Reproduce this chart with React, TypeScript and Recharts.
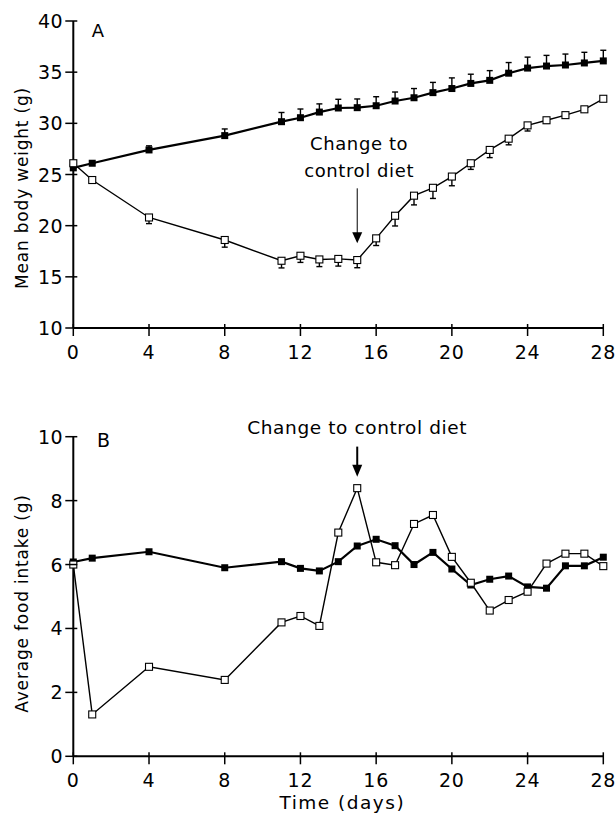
import { LineChart, Line, XAxis, YAxis, ErrorBar, ReferenceDot, ReferenceLine } from "recharts"

// days on which animals were weighed / intake measured
const DAYS = [0, 1, 4, 8, 11, 12, 13, 14, 15, 16, 17, 18, 19, 20, 21, 22, 23, 24, 25, 26, 27, 28]

// panel A – mean body weight (g)
const WEIGHT_CONTROL = [25.65, 26.1, 27.4, 28.8, 30.16, 30.55, 31.1, 31.5, 31.53, 31.72, 32.18, 32.5, 33.0, 33.4, 33.9, 34.2, 34.9, 35.4, 35.6, 35.7, 35.9, 36.1]
const WEIGHT_CONTROL_SEM = [0.3, 0, 0.4, 0.65, 0.9, 0.85, 0.8, 0.85, 0.85, 0.88, 0.88, 0.9, 1.0, 1.04, 0.9, 0.95, 1.04, 1.07, 1.04, 1.07, 1.04, 1.04]
const WEIGHT_RESTRICTED = [26.1, 24.46, 20.8, 18.6, 16.57, 17.06, 16.7, 16.75, 16.64, 18.76, 20.97, 22.93, 23.7, 24.8, 26.1, 27.4, 28.5, 29.8, 30.3, 30.8, 31.37, 32.4]
const WEIGHT_RESTRICTED_SEM = [0, 0, 0.6, 0.7, 0.7, 0.65, 0.7, 0.7, 0.75, 0.7, 1.0, 0.9, 1.04, 0.9, 0.6, 0.75, 0.6, 0.55, 0.3, 0.3, 0.2, 0]

// panel B – average food intake (g)
const INTAKE_CONTROL = [6.08, 6.2, 6.4, 5.9, 6.09, 5.88, 5.8, 6.09, 6.58, 6.79, 6.59, 6.0, 6.38, 5.86, 5.36, 5.54, 5.64, 5.3, 5.26, 5.96, 5.96, 6.23]
const INTAKE_RESTRICTED = [6.0, 1.31, 2.8, 2.39, 4.19, 4.39, 4.08, 7.0, 8.39, 6.07, 5.98, 7.27, 7.55, 6.24, 5.43, 4.56, 4.89, 5.15, 6.03, 6.34, 6.34, 5.95]

const DAY_TICKS = [0, 4, 8, 12, 16, 20, 24, 28]
const WEIGHT_TICKS = [10, 15, 20, 25, 30, 35, 40]
const INTAKE_TICKS = [0, 2, 4, 6, 8, 10]
const CHANGE_DAY = 15

const weightData = DAYS.map((day, i) => ({
  day,
  control: WEIGHT_CONTROL[i],
  controlErr: [0, WEIGHT_CONTROL_SEM[i]],
  restricted: WEIGHT_RESTRICTED[i],
  restrictedErr: [WEIGHT_RESTRICTED_SEM[i], 0],
}))

const intakeData = DAYS.map((day, i) => ({
  day,
  control: INTAKE_CONTROL[i],
  restricted: INTAKE_RESTRICTED[i],
}))

const FONT = "'DejaVu Sans', Verdana, sans-serif"

function XTick({ x, y, payload }: any) {
  return (
    <g>
      <line x1={x} x2={x} y1={y - 4} y2={y + 8} stroke="#000" strokeWidth={1.5} />
      <text x={x} y={y + 31} textAnchor="middle" fontFamily={FONT} fontSize={19} letterSpacing={0.8} fill="#000">
        {payload.value}
      </text>
    </g>
  )
}

function YTick({ x, y, payload }: any) {
  return (
    <g>
      <line x1={x - 8} x2={x + 4} y1={y} y2={y} stroke="#000" strokeWidth={1.5} />
      <text x={x - 10} y={y + 7} textAnchor="end" fontFamily={FONT} fontSize={19} letterSpacing={0.6} fill="#000">
        {payload.value}
      </text>
    </g>
  )
}

const yTitle = (text: string, dy: number) => (props: any) => {
  const { x, y, height } = props.viewBox
  const cx = x + 28
  const cy = y + height / 2 + dy
  return (
    <text x={cx} y={cy} transform={`rotate(-90 ${cx} ${cy})`} textAnchor="middle" fontFamily={FONT} fontSize={17} letterSpacing={0.8} fill="#000">
      {text}
    </text>
  )
}

const xTitle = (text: string) => (props: any) => {
  const { x, y, width } = props.viewBox
  return (
    <text x={x + width / 2 + 4} y={y + 53} textAnchor="middle" fontFamily={FONT} fontSize={18.5} letterSpacing={1.5} fill="#000">
      {text}
    </text>
  )
}

const filledSquare = (p: any) =>
  p.cx == null ? <g key={`f${p.index}`} /> : (
    <rect key={`f${p.index}`} x={p.cx - 3.5} y={p.cy - 3.5} width={7} height={7} fill="#000" />
  )

const openSquare = (p: any) =>
  p.cx == null ? <g key={`o${p.index}`} /> : (
    <rect key={`o${p.index}`} x={p.cx - 3.5} y={p.cy - 3.5} width={7} height={7} fill="#fff" stroke="#000" strokeWidth={1.1} />
  )

const arrow = (head: number, w: number, sw: number) => (p: any) => {
  const { x1, y1, x2, y2 } = p
  return (
    <g>
      <line x1={x1} y1={y1} x2={x2} y2={y2 - head + 1} stroke="#000" strokeWidth={sw} />
      <polygon points={`${x2 - w / 2},${y2 - head} ${x2 + w / 2},${y2 - head} ${x2},${y2}`} fill="#000" />
    </g>
  )
}

const textAt = (lines: string[], size: number, spacing: number, lineGap: number) => (p: any) => (
  <text x={p.cx} y={p.cy} textAnchor="middle" fontFamily={FONT} fontSize={size} letterSpacing={spacing} fill="#000">
    {lines.map((l, i) => (
      <tspan key={l} x={p.cx} dy={i === 0 ? 0 : lineGap}>
        {l}
      </tspan>
    ))}
  </text>
)

const axisLine = { stroke: "#000", strokeWidth: 2 }

function WeightPanel() {
  return (
    <LineChart width={616} height={370} data={weightData} margin={{ top: 21, right: 12.7, bottom: 0, left: 0 }}>
      <XAxis
        dataKey="day"
        type="number"
        domain={[0, 28]}
        ticks={DAY_TICKS}
        interval={0}
        height={42}
        tickSize={0}
        tickMargin={0}
        tickLine={false}
        axisLine={axisLine}
        tick={<XTick />}
      />
      <YAxis
        type="number"
        domain={[10, 40]}
        ticks={WEIGHT_TICKS}
        interval={0}
        width={73.3}
        tickSize={0}
        tickMargin={0}
        tickLine={false}
        axisLine={axisLine}
        tick={<YTick />}
        label={yTitle("Mean body weight (g)", 13.5)}
      />
      <Line dataKey="control" type="linear" stroke="#000" strokeWidth={2.2} dot={filledSquare} activeDot={false} isAnimationActive={false}>
        <ErrorBar dataKey="controlErr" direction="y" width={3} stroke="#000" strokeWidth={1.4} isAnimationActive={false} />
      </Line>
      <Line dataKey="restricted" type="linear" stroke="#000" strokeWidth={1.4} dot={openSquare} activeDot={false} isAnimationActive={false}>
        <ErrorBar dataKey="restrictedErr" direction="y" width={3} stroke="#000" strokeWidth={1.4} isAnimationActive={false} />
      </Line>
      <ReferenceLine segment={[{ x: CHANGE_DAY, y: 23.65 }, { x: CHANGE_DAY, y: 18.27 }]} ifOverflow="visible" shape={arrow(11, 10, 1)} />
      <ReferenceDot x={CHANGE_DAY + 0.1} y={27.4} ifOverflow="visible" shape={textAt(["Change to", "control diet"], 18, 0.6, 26.7)} />
      <ReferenceDot x={1.3} y={38.47} ifOverflow="visible" shape={textAt(["A"], 18, 0, 0)} />
    </LineChart>
  )
}

function IntakePanel() {
  return (
    <LineChart width={616} height={446} data={intakeData} margin={{ top: 66.7, right: 12.7, bottom: 0, left: 0 }}>
      <XAxis
        dataKey="day"
        type="number"
        domain={[0, 28]}
        ticks={DAY_TICKS}
        interval={0}
        height={59.7}
        tickSize={0}
        tickMargin={0}
        tickLine={false}
        axisLine={axisLine}
        tick={<XTick />}
        label={xTitle("Time (days)")}
      />
      <YAxis
        type="number"
        domain={[0, 10]}
        ticks={INTAKE_TICKS}
        interval={0}
        width={73.3}
        tickSize={0}
        tickMargin={0}
        tickLine={false}
        axisLine={axisLine}
        tick={<YTick />}
        label={yTitle("Average food intake (g)", 7)}
      />
      <Line dataKey="control" type="linear" stroke="#000" strokeWidth={2.2} dot={filledSquare} activeDot={false} isAnimationActive={false} />
      <Line dataKey="restricted" type="linear" stroke="#000" strokeWidth={1.4} dot={openSquare} activeDot={false} isAnimationActive={false} />
      <ReferenceLine segment={[{ x: CHANGE_DAY, y: 9.69 }, { x: CHANGE_DAY, y: 8.75 }]} ifOverflow="visible" shape={arrow(12, 10, 2)} />
      <ReferenceDot x={CHANGE_DAY} y={10.07} ifOverflow="visible" shape={textAt(["Change to control diet"], 18.5, 0.6, 0)} />
      <ReferenceDot x={1.6} y={9.69} ifOverflow="visible" shape={textAt(["B"], 19, 0, 0)} />
    </LineChart>
  )
}

export default function App() {
  return (
    <div style={{ position: "absolute", left: 0, top: 0, width: 616, height: 816, background: "#fff" }}>
      <div style={{ position: "absolute", left: 0, top: 0 }}>
        <WeightPanel />
      </div>
      <div style={{ position: "absolute", left: 0, top: 370 }}>
        <IntakePanel />
      </div>
    </div>
  )
}
